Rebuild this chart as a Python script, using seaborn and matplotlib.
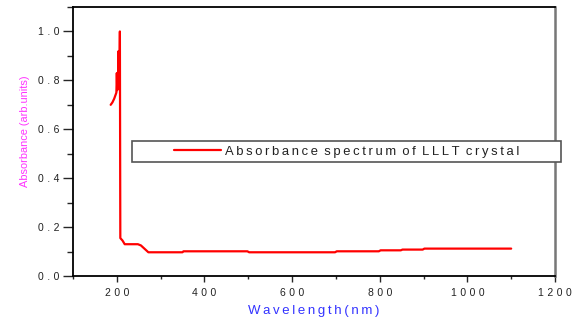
import matplotlib
matplotlib.use("Agg")
import matplotlib.pyplot as plt
import seaborn as sns
import pandas as pd
from matplotlib.patches import Rectangle
from matplotlib.ticker import MultipleLocator, FuncFormatter

wavelength = [186, 190, 194, 197, 199, 200, 201, 203, 204, 205, 206, 207, 208,
              213, 218, 248, 255, 272, 350, 352, 498, 502, 698, 702, 798, 802,
              848, 852, 898, 902, 1100]
absorbance = [0.70, 0.71, 0.725, 0.74, 0.75, 0.83, 0.76, 0.77, 0.92, 0.78, 0.79,
              1.00, 0.155, 0.145, 0.13, 0.13, 0.125, 0.097, 0.097, 0.101, 0.101,
              0.097, 0.097, 0.101, 0.101, 0.105, 0.105, 0.108, 0.108, 0.112, 0.112]
series_label = "Absorbance spectrum of LLLT crystal"
x_label = "Wavelength(nm)"
y_label = "Absorbance (arb.units)"

df = pd.DataFrame({"wavelength": wavelength, "absorbance": absorbance})

sns.set_style("ticks")
FAM = ["Liberation Sans", "DejaVu Sans"]
plt.rcParams["font.family"] = FAM


def spaced(s, sep="\u2009"):
    out = []
    for ch in s:
        if ch == " ":
            out.append(" ")
        else:
            out.append(ch + sep)
    return "".join(out).rstrip(sep)


fig = plt.figure(figsize=(5.72, 3.2), dpi=100)
ax = fig.add_axes([73 / 572, 1 - 276 / 320, (555 - 73) / 572, (276 - 7) / 320])

sns.lineplot(data=df, x="wavelength", y="absorbance", ax=ax, color="#ff0000",
             linewidth=1.6, sort=False, estimator=None, legend=False)

ax.set_xlim(100, 1200)
ax.set_ylim(0, 1.1)
ax.xaxis.set_major_locator(MultipleLocator(200))
ax.xaxis.set_minor_locator(MultipleLocator(100))
ax.yaxis.set_major_locator(MultipleLocator(0.2))
ax.yaxis.set_minor_locator(MultipleLocator(0.1))

ax.xaxis.set_major_formatter(FuncFormatter(
    lambda v, p: "" if v < 150 or v > 1250 else spaced(f"{v:.0f}", "\u2004")))
ax.yaxis.set_major_formatter(FuncFormatter(
    lambda v, p: "" if v > 1.05 else spaced(f"{v:.1f}", "\u2004")))

ax.tick_params(axis="x", which="major", length=4, width=1, pad=5,
               labelsize=7.5, labelcolor="#222222", direction="out")
ax.tick_params(axis="x", which="minor", length=2.5, width=1, direction="out")
ax.tick_params(axis="y", which="major", length=7, width=1, pad=3,
               labelsize=7.5, labelcolor="#222222", direction="out")
ax.tick_params(axis="y", which="minor", length=4, width=1, direction="out")
ax.tick_params(top=False, right=False, which="both")

for side in ["left", "bottom", "top"]:
    ax.spines[side].set_visible(True)
    ax.spines[side].set_color("black")
    ax.spines[side].set_linewidth(1.3)
ax.spines["right"].set_visible(True)
ax.spines["right"].set_color("#777777")
ax.spines["right"].set_linewidth(1.8)

ax.set_xlabel(spaced(x_label), color="#3333ff", fontsize=9.5, labelpad=5)
ax.set_ylabel(y_label, color="#ff33ff", fontsize=7.9)
ax.yaxis.set_label_coords(-0.09, 0.54)

# legend frame
x0 = (132 - 73) / 482
x1 = (561 - 73) / 482
y0 = (276 - 162) / 269
y1 = (276 - 141) / 269
ax.add_patch(Rectangle((x0, y0), x1 - x0, y1 - y0, transform=ax.transAxes,
                       facecolor="white", edgecolor="#555555", linewidth=1.2,
                       clip_on=False, zorder=5))
handle = ax.get_lines()[0]
leg = ax.legend([handle], [spaced(series_label)], loc="center",
                bbox_to_anchor=((x0 + x1) / 2, (y0 + y1) / 2),
                frameon=False, fontsize=9.4, handlelength=3.6, handletextpad=0.35,
                borderpad=0, borderaxespad=0)
leg.set_zorder(6)
for t in leg.get_texts():
    t.set_color("#222222")

fig.savefig("out.png", dpi=100)
